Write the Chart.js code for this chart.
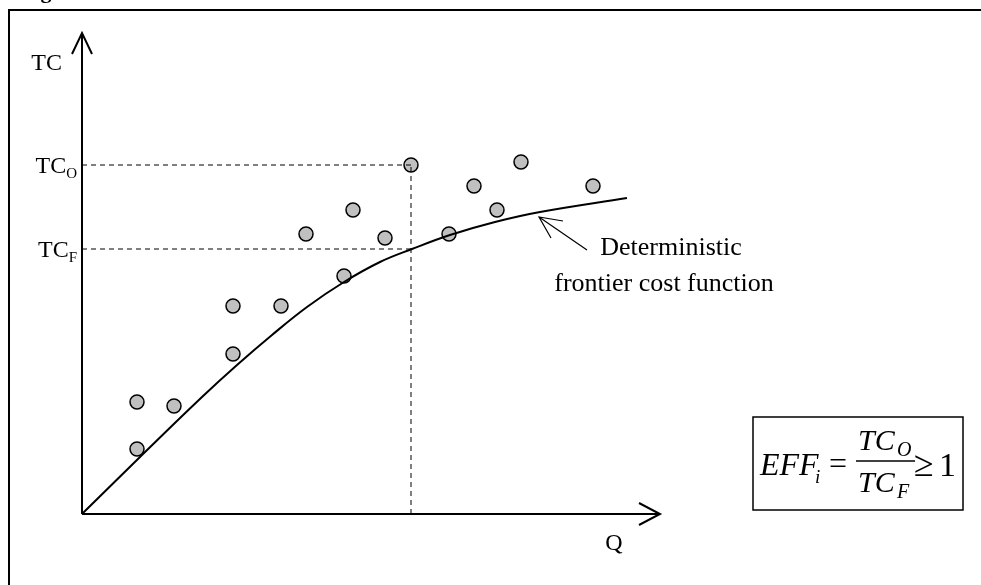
<!DOCTYPE html>
<html>
<head>
<meta charset="utf-8">
<script src="https://cdn.jsdelivr.net/npm/chart.js@4"></script>
<style>
  body { margin: 0; background: #fff; }
</style>
</head>
<body>
<canvas id="fig" width="981" height="585"></canvas>
<script>
// observed firms (Q, TC)
const obsQ  = [55, 55, 92, 151, 151, 199, 224, 262, 271, 303, 329, 367, 392, 415, 439, 511];
const obsTC = [112, 65, 108, 208, 160, 208, 280, 238, 304, 276, 349, 280, 328, 304, 352, 328];

// deterministic frontier cost function
const frontierQ  = [0, 60, 120, 155, 190, 225, 262, 298, 330, 368, 413, 458, 545];
const frontierTC = [0, 59, 117, 149, 179, 207, 232, 252, 265, 279, 292, 302, 316];

// reference firm
const qRef = 329;
const tcO = 349;
const tcF = 265;

const qMax = 578, tcMax = 481;
const serif = '"Liberation Serif", "Times New Roman", serif';

const pts = (xs, ys) => xs.map((x, i) => ({ x: x, y: ys[i] }));

// text with subscript
function subText(ctx, main, sub, xRight, y, size, italic) {
  const st = italic ? 'italic ' : '';
  ctx.font = st + size + 'px ' + serif;
  const mw = ctx.measureText(main).width;
  ctx.font = st + Math.round(size * 0.62) + 'px ' + serif;
  const sw = ctx.measureText(sub).width;
  const x0 = xRight - mw - sw;
  ctx.textAlign = 'left';
  ctx.textBaseline = 'alphabetic';
  ctx.font = st + size + 'px ' + serif;
  ctx.fillText(main, x0, y);
  ctx.font = st + Math.round(size * 0.62) + 'px ' + serif;
  ctx.fillText(sub, x0 + mw, y + size * 0.2);
}

const extras = {
  id: 'extras',
  afterDraw(chart) {
    const ctx = chart.ctx;
    const xs = chart.scales.x, ys = chart.scales.y;
    const ox = xs.getPixelForValue(0), oy = ys.getPixelForValue(0);
    const xe = xs.getPixelForValue(qMax), ye = ys.getPixelForValue(tcMax);
    ctx.save();
    ctx.strokeStyle = '#000';
    ctx.fillStyle = '#000';

    // frame
    ctx.lineWidth = 2;
    ctx.strokeRect(9, 10, 1000, 600);

    // cut-off caption
    ctx.font = 'bold 22px ' + serif;
    ctx.textAlign = 'left';
    ctx.textBaseline = 'alphabetic';
    ctx.fillText('Figure', 21, -2);

    // axes with open arrow heads
    ctx.lineWidth = 2;
    ctx.beginPath();
    ctx.moveTo(ox, oy); ctx.lineTo(ox, ye);
    ctx.moveTo(ox - 10, ye + 21); ctx.lineTo(ox, ye); ctx.lineTo(ox + 10, ye + 21);
    ctx.moveTo(ox, oy); ctx.lineTo(xe, oy);
    ctx.moveTo(xe - 21, oy - 11); ctx.lineTo(xe, oy); ctx.lineTo(xe - 21, oy + 11);
    ctx.stroke();

    // axis labels
    ctx.font = '24px ' + serif;
    ctx.textAlign = 'right';
    ctx.textBaseline = 'middle';
    ctx.fillText('TC', 62, 64);
    ctx.textAlign = 'center';
    ctx.fillText('Q', 614, 544);
    subText(ctx, 'TC', 'O', 77, ys.getPixelForValue(tcO) + 8, 24, false);
    subText(ctx, 'TC', 'F', 77, ys.getPixelForValue(tcF) + 8, 24, false);

    // annotation arrow
    ctx.lineWidth = 1.2;
    const tx = xs.getPixelForValue(457), ty = ys.getPixelForValue(297);
    ctx.beginPath();
    ctx.moveTo(tx + 48, ty + 33); ctx.lineTo(tx, ty);
    ctx.moveTo(tx + 24, ty + 4); ctx.lineTo(tx, ty); ctx.lineTo(tx + 12, ty + 21);
    ctx.stroke();
    ctx.font = '26px ' + serif;
    ctx.textAlign = 'center';
    ctx.textBaseline = 'middle';
    ctx.fillText('Deterministic', 671, 248);
    ctx.fillText('frontier cost function', 664, 284);

    // formula box
    ctx.lineWidth = 1.5;
    ctx.strokeRect(753, 417, 210, 93);
    ctx.textBaseline = 'alphabetic';
    ctx.textAlign = 'left';
    ctx.font = 'italic 32px ' + serif;
    ctx.fillText('EFF', 760, 475);
    ctx.font = 'italic 19px ' + serif;
    ctx.fillText('i', 815, 483);
    ctx.font = '32px ' + serif;
    ctx.fillText('=', 829, 474);
    ctx.font = 'italic 30px ' + serif;
    ctx.fillText('TC', 858, 450);
    ctx.fillText('TC', 858, 492);
    ctx.font = 'italic 20px ' + serif;
    ctx.fillText('O', 897, 456);
    ctx.fillText('F', 897, 498);
    ctx.lineWidth = 1.3;
    ctx.beginPath();
    ctx.moveTo(856, 461); ctx.lineTo(915, 461);
    ctx.stroke();
    ctx.font = '36px ' + serif;
    ctx.fillText('\u2265', 914, 476);
    ctx.font = '34px ' + serif;
    ctx.fillText('1', 939, 476);
    ctx.restore();
  }
};

new Chart(document.getElementById('fig'), {
  type: 'scatter',
  data: {
    datasets: [
      {
        data: [{ x: 0, y: tcO }, { x: qRef, y: tcO }],
        showLine: true, borderColor: '#000', borderWidth: 1, borderDash: [5, 4], pointRadius: 0
      },
      {
        data: [{ x: 0, y: tcF }, { x: qRef, y: tcF }],
        showLine: true, borderColor: '#000', borderWidth: 1, borderDash: [5, 4], pointRadius: 0
      },
      {
        data: [{ x: qRef, y: 0 }, { x: qRef, y: tcO }],
        showLine: true, borderColor: '#000', borderWidth: 1, borderDash: [5, 4], pointRadius: 0
      },
      {
        data: pts(frontierQ, frontierTC),
        showLine: true, borderColor: '#000', borderWidth: 2, pointRadius: 0,
        tension: 0.4
      },
      {
        data: pts(obsQ, obsTC),
        pointRadius: 7, pointBackgroundColor: '#c0c0c0', pointBorderColor: '#000', pointBorderWidth: 1.5
      }
    ]
  },
  options: {
    responsive: false,
    animation: false,
    layout: { padding: { left: 82, top: 33, right: 321, bottom: 71 } },
    plugins: { legend: { display: false }, tooltip: { enabled: false } },
    scales: {
      x: { display: false, min: 0, max: qMax },
      y: { display: false, min: 0, max: tcMax }
    }
  },
  plugins: [extras]
});
</script>
</body>
</html>
